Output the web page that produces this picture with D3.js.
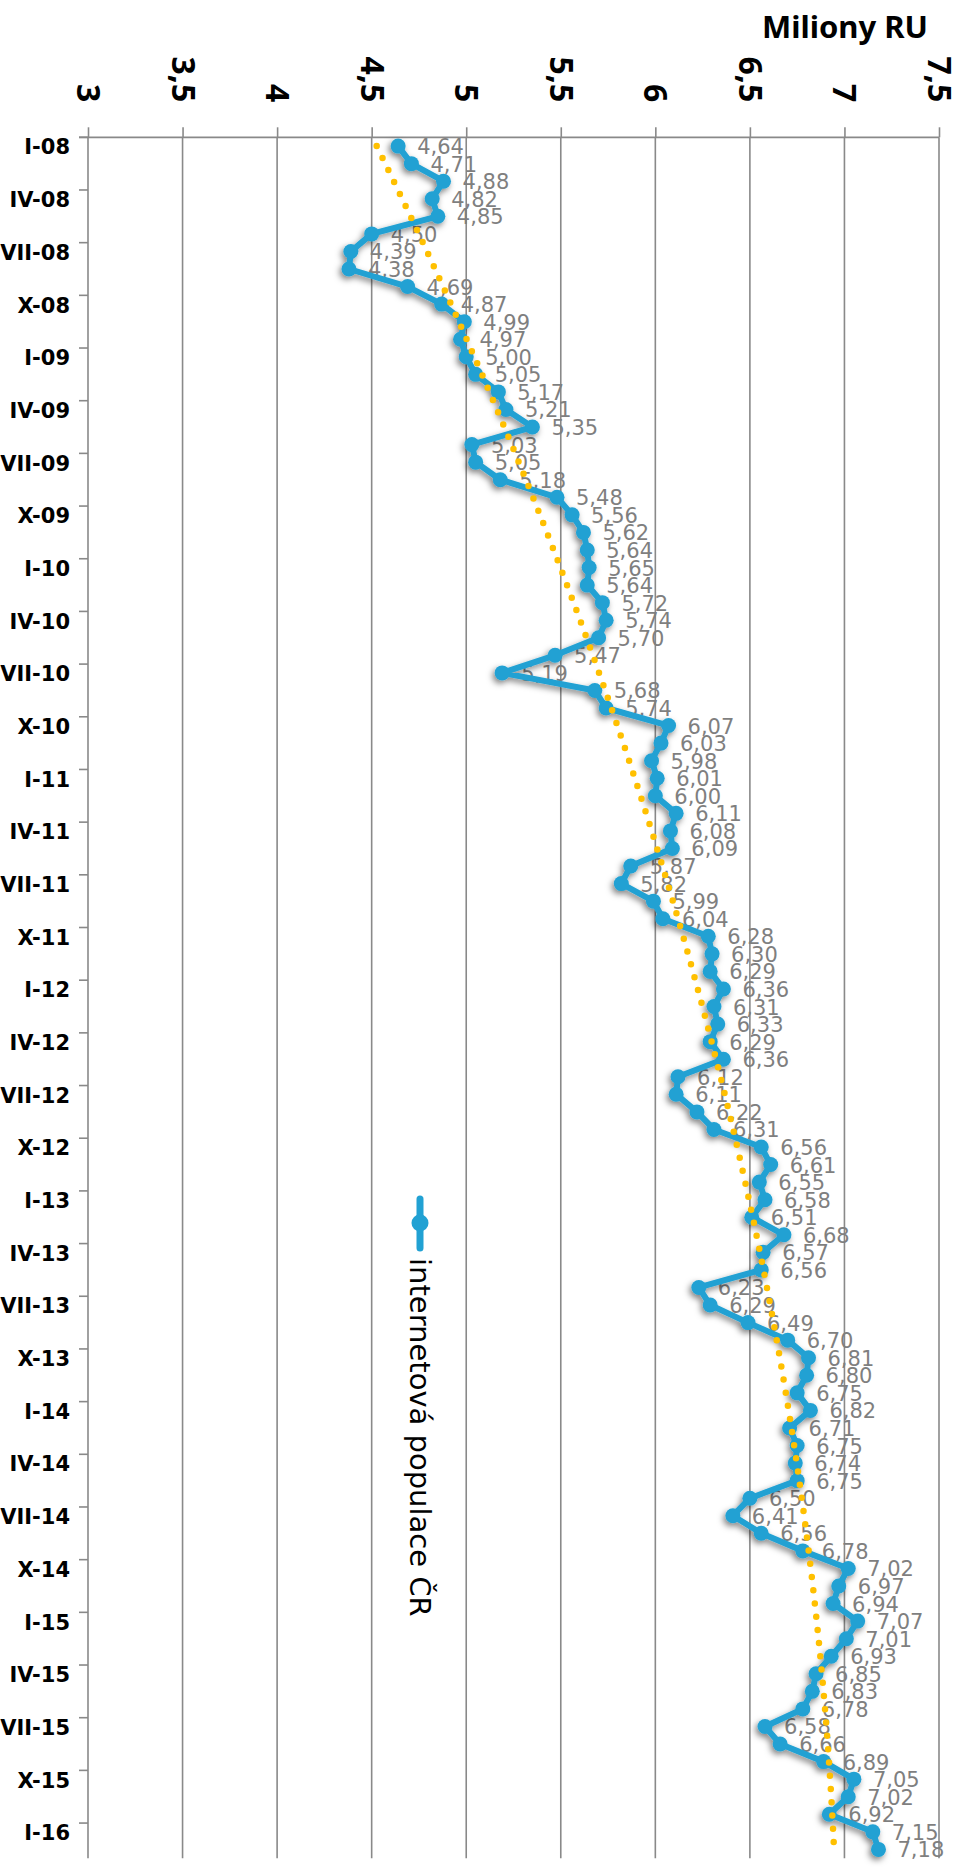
<!DOCTYPE html>
<html>
<head>
<meta charset="utf-8">
<script src="https://cdn.jsdelivr.net/npm/d3@7"></script>
<style>
  html, body { margin: 0; padding: 0; background: #fff; }
  svg { display: block; }
</style>
</head>
<body>
<svg id="chart" width="964" height="1867"></svg>
<script>
// ---- DATA ----
const monthNames = ["I","II","III","IV","V","VI","VII","VIII","IX","X","XI","XII"];
const years = ["08","09","10","11","12","13","14","15","16"];
const values = [
  4.64, 4.71, 4.88, 4.82, 4.85, 4.50, 4.39, 4.38, 4.69, 4.87, 4.99, 4.97,
  5.00, 5.05, 5.17, 5.21, 5.35, 5.03, 5.05, 5.18, 5.48, 5.56, 5.62, 5.64,
  5.65, 5.64, 5.72, 5.74, 5.70, 5.47, 5.19, 5.68, 5.74, 6.07, 6.03, 5.98,
  6.01, 6.00, 6.11, 6.08, 6.09, 5.87, 5.82, 5.99, 6.04, 6.28, 6.30, 6.29,
  6.36, 6.31, 6.33, 6.29, 6.36, 6.12, 6.11, 6.22, 6.31, 6.56, 6.61, 6.55,
  6.58, 6.51, 6.68, 6.57, 6.56, 6.23, 6.29, 6.49, 6.70, 6.81, 6.80, 6.75,
  6.82, 6.71, 6.75, 6.74, 6.75, 6.50, 6.41, 6.56, 6.78, 7.02, 6.97, 6.94,
  7.07, 7.01, 6.93, 6.85, 6.83, 6.78, 6.58, 6.66, 6.89, 7.05, 7.02, 6.92,
  7.15, 7.18
];
const valueTicks = [3, 3.5, 4, 4.5, 5, 5.5, 6, 6.5, 7, 7.5];
const seriesName = "internetová populace ČR";
const axisTitle = "Miliony RU";

// categories built from month and year labels
const categories = [];
years.forEach(y => monthNames.forEach(m => categories.push(m + "-" + y)));
categories.length = values.length;
const data = values.map((v, i) => ({ c: categories[i], v: v, i: i }));

// ---- LAYOUT ----
const svg = d3.select("#chart");
const plotTop = 137.3;
const band = 17.56;
const plotBottom = plotTop + band * categories.length;
const plotLeft = 88, plotRight = 939;

const x = d3.scaleLinear().domain([3, 7.5]).range([plotLeft, plotRight]);
const y = d3.scaleBand().domain(categories).range([plotTop, plotBottom]).padding(0);
const cy = c => y(c) + y.bandwidth() / 2;
const fmt = v => d3.format(".2f")(v).replace(".", ",");
const tickFmt = v => String(v).replace(".", ",");

const gridColor = "#898989";

// shadow filter
const defs = svg.append("defs");
const f = defs.append("filter").attr("id", "shadow")
  .attr("x", "-20%").attr("y", "-5%").attr("width", "140%").attr("height", "110%");
f.append("feDropShadow").attr("dx", -2).attr("dy", 3).attr("stdDeviation", 3)
  .attr("flood-color", "#000").attr("flood-opacity", 0.5);

// gridlines
svg.append("g").selectAll("line").data(valueTicks).join("line")
  .attr("x1", d => x(d)).attr("x2", d => x(d))
  .attr("y1", plotTop).attr("y2", plotBottom)
  .attr("stroke", gridColor).attr("stroke-width", 1.6);

// value axis (top)
const xAxis = svg.append("g").attr("transform", `translate(0,${plotTop})`)
  .call(d3.axisTop(x).tickValues(valueTicks).tickSize(10).tickSizeOuter(0).tickFormat(tickFmt));
xAxis.select(".domain").remove();
xAxis.selectAll(".tick line").attr("stroke", gridColor).attr("stroke-width", 1.6);
xAxis.selectAll(".tick text")
  .attr("x", 0).attr("y", 0).attr("dy", "0.36em")
  .attr("transform", "translate(0,-35) rotate(90)")
  .attr("text-anchor", "end")
  .attr("fill", "#000")
  .style("font-family", "'Noto Sans', sans-serif")
  .style("font-weight", "bold")
  .style("font-size", "32px");

// top axis line
svg.append("line")
  .attr("x1", plotLeft - 9).attr("x2", plotRight)
  .attr("y1", plotTop).attr("y2", plotTop)
  .attr("stroke", gridColor).attr("stroke-width", 1.8);

// category axis (left)
const labelCats = categories.filter((d, i) => i % 3 === 0);
const yAxis = svg.append("g").attr("transform", `translate(${plotLeft},0)`)
  .call(d3.axisLeft(y).tickValues(labelCats).tickSize(0).tickPadding(18));
yAxis.select(".domain").remove();
yAxis.selectAll(".tick text")
  .attr("dy", "0.40em")
  .attr("fill", "#000")
  .style("font-family", "'DejaVu Sans', sans-serif")
  .style("font-weight", "bold")
  .style("font-size", "21px");

// category tick marks at group boundaries
svg.append("g").selectAll("line").data(labelCats).join("line")
  .attr("x1", plotLeft - 9).attr("x2", plotLeft)
  .attr("y1", d => y(d)).attr("y2", d => y(d))
  .attr("stroke", gridColor).attr("stroke-width", 1.6);

// data labels
svg.append("g").selectAll("text").data(data).join("text")
  .attr("x", d => x(d.v) + 19)
  .attr("y", d => cy(d.c))
  .attr("dy", "0.38em")
  .attr("fill", "#7f7f7f")
  .style("font-family", "'DejaVu Sans', sans-serif")
  .style("font-size", "21px")
  .text(d => fmt(d.v));

// series line + markers
const blue = "#21A1D3";
const sg = svg.append("g").attr("filter", "url(#shadow)");
sg.append("path").datum(data)
  .attr("d", d3.line().x(d => x(d.v)).y(d => cy(d.c)))
  .attr("fill", "none").attr("stroke", blue).attr("stroke-width", 6)
  .attr("stroke-linejoin", "round");
sg.selectAll("circle").data(data).join("circle")
  .attr("cx", d => x(d.v)).attr("cy", d => cy(d.c)).attr("r", 7.5)
  .attr("fill", blue);

// polynomial (order 2) trendline, least squares on x = 1..n
(function () {
  const n = values.length;
  let S = [0, 0, 0, 0, 0], T = [0, 0, 0];
  values.forEach((v, i) => {
    const t = i + 1;
    for (let k = 0; k < 5; k++) S[k] += Math.pow(t, k);
    for (let k = 0; k < 3; k++) T[k] += v * Math.pow(t, k);
  });
  const A = [[S[0], S[1], S[2]], [S[1], S[2], S[3]], [S[2], S[3], S[4]]];
  const b = T.slice();
  for (let p = 0; p < 3; p++) {
    for (let r = p + 1; r < 3; r++) {
      const m = A[r][p] / A[p][p];
      for (let c = p; c < 3; c++) A[r][c] -= m * A[p][c];
      b[r] -= m * b[p];
    }
  }
  const coef = [0, 0, 0];
  for (let r = 2; r >= 0; r--) {
    let s = b[r];
    for (let c = r + 1; c < 3; c++) s -= A[r][c] * coef[c];
    coef[r] = s / A[r][r];
  }
  const trend = data.map(d => ({ c: d.c, v: coef[0] + coef[1] * (d.i + 1) + coef[2] * (d.i + 1) * (d.i + 1) }));
  svg.append("path").datum(trend)
    .attr("d", d3.line().x(d => x(d.v)).y(d => cy(d.c)).curve(d3.curveMonotoneY))
    .attr("fill", "none").attr("stroke", "#FFC000").attr("stroke-width", 6.5)
    .attr("stroke-linecap", "round").attr("stroke-dasharray", "0 13.3");
})();

// axis title
svg.append("text")
  .attr("x", 928).attr("y", 38)
  .attr("text-anchor", "end")
  .attr("fill", "#000")
  .style("font-family", "'Noto Sans', sans-serif")
  .style("font-weight", "bold")
  .style("font-size", "31px")
  .text(axisTitle);

// legend
const lg = svg.append("g");
lg.append("line").attr("x1", 420).attr("x2", 420).attr("y1", 1199).attr("y2", 1248)
  .attr("stroke", blue).attr("stroke-width", 7).attr("stroke-linecap", "round");
lg.append("circle").attr("cx", 420).attr("cy", 1223).attr("r", 8.5).attr("fill", blue);
lg.append("text")
  .attr("transform", "translate(410,1258) rotate(90)")
  .attr("text-anchor", "start")
  .attr("fill", "#000")
  .style("font-family", "'DejaVu Sans', sans-serif")
  .style("font-size", "29px")
  .text(seriesName);
</script>
</body>
</html>
